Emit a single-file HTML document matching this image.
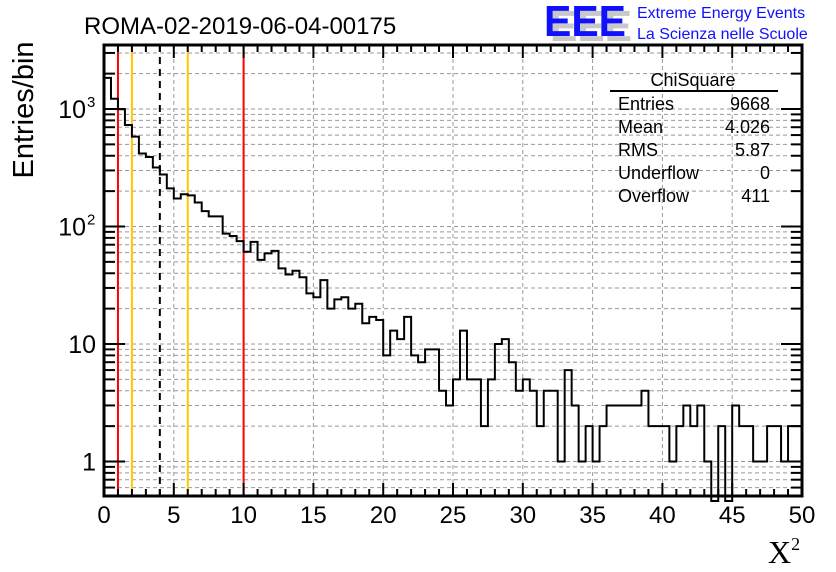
<!DOCTYPE html>
<html><head><meta charset="utf-8"><style>
html,body{margin:0;padding:0;background:#fff;}
svg{display:block;font-family:"Liberation Sans",sans-serif;}
</style></head><body>
<svg id="chart" width="836" height="572" viewBox="0 0 836 572">
<g id="grid"></g>
<g id="markers"></g>
<path id="hist" fill="none" stroke="#000" stroke-width="2"/>
<g id="axes"></g>
<text x="84" y="34" font-size="24">ROMA-02-2019-06-04-00175</text>
<g>
<text x="550" y="41" font-size="44" font-weight="bold" fill="#c8c8c8" textLength="82" lengthAdjust="spacingAndGlyphs">EEE</text>
<text x="544" y="36" font-size="44" font-weight="bold" fill="#1010ff" textLength="82" lengthAdjust="spacingAndGlyphs">EEE</text>
<text x="637" y="18" font-size="16" fill="#1010ff">Extreme Energy Events</text>
<text x="637" y="39" font-size="16" fill="#1010ff">La Scienza nelle Scuole</text>
</g>
<g font-size="18">
<text x="693" y="86" text-anchor="middle">ChiSquare</text>
<line x1="610" y1="91" x2="778" y2="91" stroke="#000" stroke-width="2"/>
<text x="618" y="110">Entries</text><text x="770" y="110" text-anchor="end">9668</text>
<text x="618" y="133">Mean</text><text x="770" y="133" text-anchor="end">4.026</text>
<text x="618" y="156">RMS</text><text x="770" y="156" text-anchor="end">5.87</text>
<text x="618" y="179">Underflow</text><text x="770" y="179" text-anchor="end">0</text>
<text x="618" y="202">Overflow</text><text x="770" y="202" text-anchor="end">411</text>
</g>
<text transform="translate(33,110) rotate(-90)" text-anchor="middle" font-size="29">Entries/bin</text>
<text x="768" y="563" font-size="32" font-family="Liberation Serif,serif">X<tspan font-size="18" dy="-13">2</tspan></text>
</svg>
<script>
const binCounts = [1840,1222,995,731,582,418,390,318,277,211,173,188,184,160,135,122,122,87,83,75,
61,74,52,59,62,44,39,42,37,27,25,35,20,24,25,20,22,15,17,16,
8,13,11,17,8,7,9,9,4,3,5,13,5,5,2,5,10,11,7,4,
5,4,2,4,4,1,6,3,1,2,1,2,3,3,3,3,3,4,2,2,
2,1,2,3,2,3,1,0,2,0,3,2,2,1,1,2,2,1,2,2];
const xTickLabels = [0,5,10,15,20,25,30,35,40,45,50];
const yTickLabels = [[1,"1",""],[10,"10",""],[100,"10","2"],[1000,"10","3"]];
const markerValues = [[1,"red"],[10,"red"],[2,"#ffc800"],[6,"#ffc800"],[4,"black-dashed"]];
const binWidth = 0.5;

const L=104,R=802,T=45,B=496;
const xmin=0,xmax=50, y1px=461.5, decade=117.5;
const X=v=>L+(v-xmin)/(xmax-xmin)*(R-L);
const Y=v=>v<=0?B+5:Math.min(B+5,y1px-decade*Math.log10(v));
const ns="http://www.w3.org/2000/svg";
function mk(tag,attrs,parent){const e=document.createElementNS(ns,tag);for(const k in attrs)e.setAttribute(k,attrs[k]);parent.appendChild(e);return e;}
const grid=document.getElementById('grid'),axes=document.getElementById('axes'),markers=document.getElementById('markers');
for(let v=5;v<50;v+=5){const g=mk('line',{x1:X(v),x2:X(v),y1:T,y2:B,stroke:'#999','stroke-dasharray':'4,3','stroke-width':1},grid);

}
const yminVal=Math.pow(10,(y1px-B)/decade), ymaxVal=Math.pow(10,(y1px-T)/decade);
for(let d=-1;d<=3;d++){for(let m=1;m<=9;m++){const v=m*Math.pow(10,d);if(v<yminVal||v>ymaxVal)continue;const y=Y(v);
const g=mk('line',{x1:L,x2:R,y1:y,y2:y,stroke:'#999','stroke-dasharray':'4,3','stroke-width':1},grid);


const len=m===1?21:11;
const t1=mk('line',{x1:L,x2:L+len,y1:y,y2:y,stroke:'#000','stroke-width':2},axes);


const t2=mk('line',{x1:R,x2:R-len,y1:y,y2:y,stroke:'#000','stroke-width':2},axes);

}}
markerValues.forEach(([v,c])=>{const dashed=c==='black-dashed';
const l=mk('line',{x1:X(v),x2:X(v),y1:T,y2:B,stroke:dashed?'#000':c,'stroke-width':2},markers);
if(dashed)l.setAttribute('stroke-dasharray','7,5');

});
let d='';binCounts.forEach((c,i)=>{const x0=X(i*binWidth),x1=X((i+1)*binWidth),y=Y(c);
d+=(i===0?'M'+x0+','+y:'L'+x0+','+y)+'L'+x1+','+y;});
document.getElementById('hist').setAttribute('d',d);
const f=mk('rect',{x:L,y:T,width:R-L,height:B-T,fill:'none',stroke:'#000','stroke-width':3},axes);


for(let v=0;v<=50;v++){const len=v%5===0?13:7;
const t=mk('line',{x1:X(v),x2:X(v),y1:B,y2:B-len,stroke:'#000','stroke-width':2},axes);


const t2=mk('line',{x1:X(v),x2:X(v),y1:T,y2:T+len,stroke:'#000','stroke-width':2},axes);

}
xTickLabels.forEach(v=>{const t=mk('text',{x:X(v),y:523,'text-anchor':'middle','font-size':24},axes);t.textContent=v;

});
yTickLabels.forEach(([v,s,e])=>{const t=mk('text',{x:e?86:96,y:Y(v)+9,'text-anchor':'end','font-size':25},axes);t.textContent=s;


if(e){const s2=mk('text',{x:87,y:Y(v)-2,'font-size':15},axes);s2.textContent=e;

}});
</script>
</body></html>
